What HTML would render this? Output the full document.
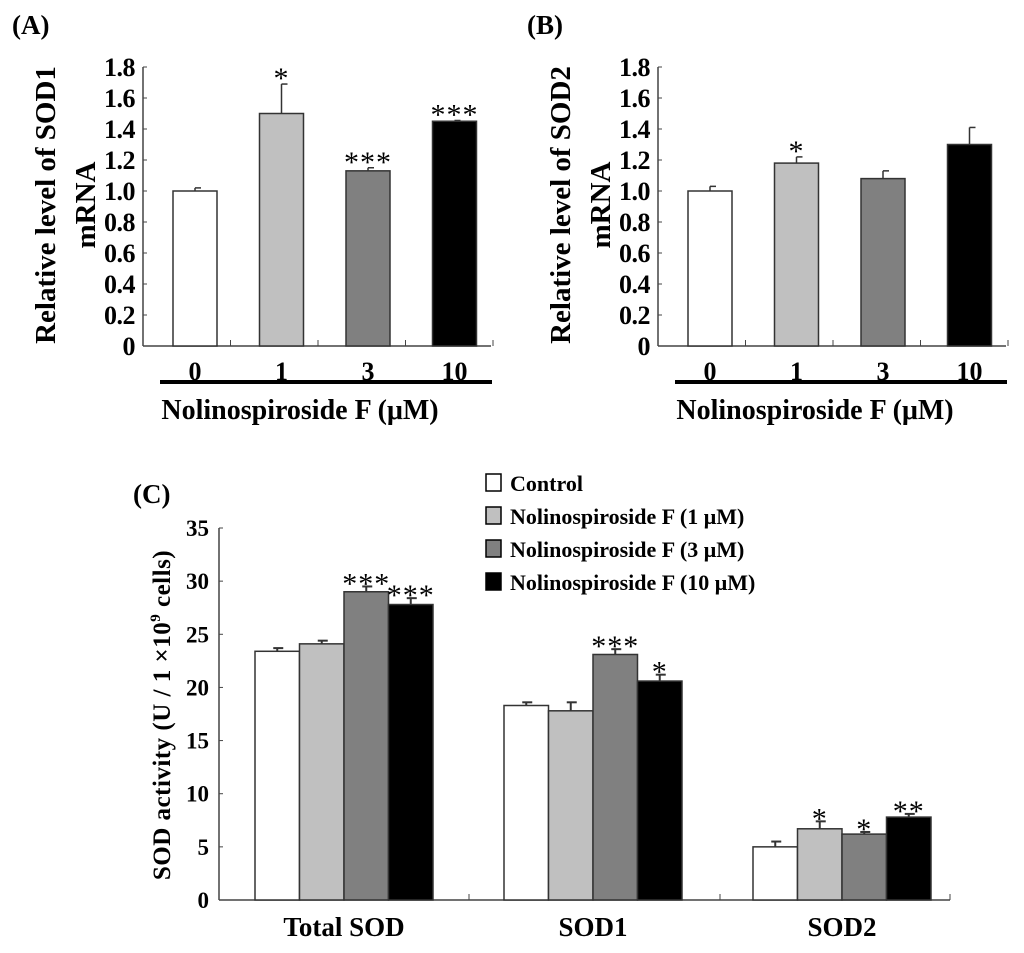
<!DOCTYPE html>
<html><head><meta charset="utf-8"><style>
body{margin:0;background:#fff;}
svg{display:block;font-family:"Liberation Serif",serif;font-weight:bold;}
</style></head><body>
<svg id="fig" width="1024" height="953" viewBox="0 0 1024 953"></svg>
<script>
const catsAB = ['0','1','3','10'];
const valsA = [1.0, 1.5, 1.13, 1.45];
const errA = [0.02, 0.19, 0.02, 0.005];
const sigA = ['', '*', '***', '***'];
const valsB = [1.0, 1.18, 1.08, 1.3];
const errB = [0.03, 0.04, 0.05, 0.11];
const sigB = ['', '*', '', ''];
const ticksAB = [0,0.2,0.4,0.6,0.8,1.0,1.2,1.4,1.6,1.8];
const tickLabelsAB = ['0','0.2','0.4','0.6','0.8','1.0','1.2','1.4','1.6','1.8'];
const groupsC = ['Total SOD','SOD1','SOD2'];
const seriesC = ['Control','Nolinospiroside F (1 \u03bcM)','Nolinospiroside F (3 \u03bcM)','Nolinospiroside F (10 \u03bcM)'];
const valsC = [[23.4,24.1,29.0,27.8],[18.3,17.8,23.1,20.6],[5.0,6.7,6.2,7.8]];
const errC = [[0.3,0.3,0.5,0.6],[0.3,0.8,0.5,0.6],[0.5,0.7,0.2,0.3]];
const sigC = [['','','***','***'],['','','***','*'],['','*','*','**']];
const ticksC = [0,5,10,15,20,25,30,35];
const colors = ['#ffffff','#c0c0c0','#808080','#000000'];

const svg = document.getElementById('fig');
const NS = 'http://www.w3.org/2000/svg';
function el(tag, attrs, parent){const e=document.createElementNS(NS,tag);for(const k in attrs)e.setAttribute(k,attrs[k]);(parent||svg).appendChild(e);return e;}
function txt(s, attrs, parent){const e=el('text',attrs,parent);e.textContent=s;return e;}

function panelAB(ox, vals, errs, sigs, label, ylab, name){
  const g = el('g',{});
  
  
  const x0=ox, x1=ox+348, y0=346, yTop=67;
  const y = v => y0 - (v/1.8)*(y0-yTop);
  const pitch = 86.5;
  const bx = i => ox + 30 + i*pitch;
  el('line',{x1:x0,y1:yTop,x2:x0,y2:y0,stroke:'#444','stroke-width':1.5},g);
  el('line',{x1:x0,y1:y0,x2:x1,y2:y0,stroke:'#444','stroke-width':1.5},g);
  ticksAB.forEach((t,i)=>{
    el('line',{x1:x0,y1:y(t),x2:x0+4,y2:y(t),stroke:'#444','stroke-width':1},g);
    const tl=txt(tickLabelsAB[i],{x:x0-8,y:y(t)+9,'text-anchor':'end','font-size':26,'letter-spacing':-0.5},g);
    
    
  });
  for(let i=1;i<=4;i++) el('line',{x1:ox+i*87.5,y1:y0,x2:ox+i*87.5,y2:y0-6,stroke:'#444','stroke-width':1},g);
  vals.forEach((v,i)=>{
    const cx=bx(i)+22;
    el('line',{x1:cx,y1:y(v),x2:cx,y2:y(v+errs[i]),stroke:'#333','stroke-width':1.5},g);
    el('line',{x1:cx,y1:y(v+errs[i]),x2:cx+6,y2:y(v+errs[i]),stroke:'#333','stroke-width':1.5},g);
    const r=el('rect',{x:bx(i),y:y(v),width:44,height:y0-y(v),fill:colors[i],stroke:'#333','stroke-width':1.5},g);
    
    
    if(sigs[i]){const s=txt(sigs[i],{x:cx,y:y(v+errs[i])+4,'text-anchor':'middle','font-size':30,'font-weight':'normal','letter-spacing':1},g);
      
      }
    const c=txt(catsAB[i],{x:cx,y:380,'text-anchor':'middle','font-size':26},g);
    
    
  });
  el('rect',{x:ox+17,y:380,width:332,height:4,fill:'#000'},g);
  const xt=txt('Nolinospiroside F (\u03bcM)',{x:ox+157,y:419,'text-anchor':'middle','font-size':28},g);
  
  
  const yt=txt('Relative level of SOD'+ylab,{x:0,y:0,'text-anchor':'middle','font-size':29,transform:`translate(${ox-88},205) rotate(-90)`},g);
  
  
  const yt2=txt('mRNA',{x:0,y:0,'text-anchor':'middle','font-size':29,transform:`translate(${ox-48},205) rotate(-90)`},g);
  
  
  const pl=txt(label,{x:ox-131,y:34,'font-size':27},g);
  
  
}
panelAB(143, valsA, errA, sigA, '(A)', '1', 'panel-a');
panelAB(658, valsB, errB, sigB, '(B)', '2', 'panel-b');

// Panel C
(function(){
  const g=el('g',{});
  
  
  const x0=219,x1=950,y0=900,yTop=528;
  const y=v=>y0-(v/35)*(y0-yTop);
  const gx=[255,504,753];
  const bw=44.5;
  el('line',{x1:x0,y1:yTop,x2:x0,y2:y0,stroke:'#444','stroke-width':1.5},g);
  el('line',{x1:x0,y1:y0,x2:x1,y2:y0,stroke:'#444','stroke-width':1.5},g);
  ticksC.forEach(t=>{
    el('line',{x1:x0,y1:y(t),x2:x0+4,y2:y(t),stroke:'#444','stroke-width':1},g);
    const tl=txt(String(t),{x:x0-10,y:y(t)+8,'text-anchor':'end','font-size':23},g);
    
    
  });
  [469,720,950].forEach(tx=>el('line',{x1:tx,y1:y0,x2:tx,y2:y0-6,stroke:'#444','stroke-width':1},g));
  valsC.forEach((arr,gi)=>{
    arr.forEach((v,si)=>{
      const bx=gx[gi]+si*bw, cx=bx+bw/2, e=errC[gi][si];
      el('line',{x1:cx,y1:y(v),x2:cx,y2:y(v+e),stroke:'#333','stroke-width':2},g);
      el('line',{x1:cx-4,y1:y(v+e),x2:cx+6,y2:y(v+e),stroke:'#333','stroke-width':2},g);
      const r=el('rect',{x:bx,y:y(v),width:bw,height:y0-y(v),fill:colors[si],stroke:'#333','stroke-width':1.5},g);
      
      
      if(sigC[gi][si]){const s=txt(sigC[gi][si],{x:cx,y:y(v+e)+7,'text-anchor':'middle','font-size':30,'font-weight':'normal','letter-spacing':1},g);
        
        }
    });
    const c=txt(groupsC[gi],{x:gx[gi]+2*bw,y:936,'text-anchor':'middle','font-size':27},g);
    
    
  });
  const yt=el('text',{x:0,y:0,'text-anchor':'middle','font-size':25,'letter-spacing':0.5,transform:'translate(170,715) rotate(-90)'},g);
  
  
  yt.innerHTML='SOD activity (U / 1 \u00d710<tspan dy="-10" font-size="15">9</tspan><tspan dy="10"> cells)</tspan>';
  const pl=txt('(C)',{x:133,y:503,'font-size':27},g);
  
  
  seriesC.forEach((s,i)=>{
    const ly=474+i*33;
    const lg=el('g',{},g);
    
    
    el('rect',{x:486,y:ly,width:15,height:17,fill:colors[i],stroke:'#000','stroke-width':1.5},lg);
    txt(s,{x:510,y:ly+17,'font-size':22},lg);
  });
})();
</script>
</body></html>
